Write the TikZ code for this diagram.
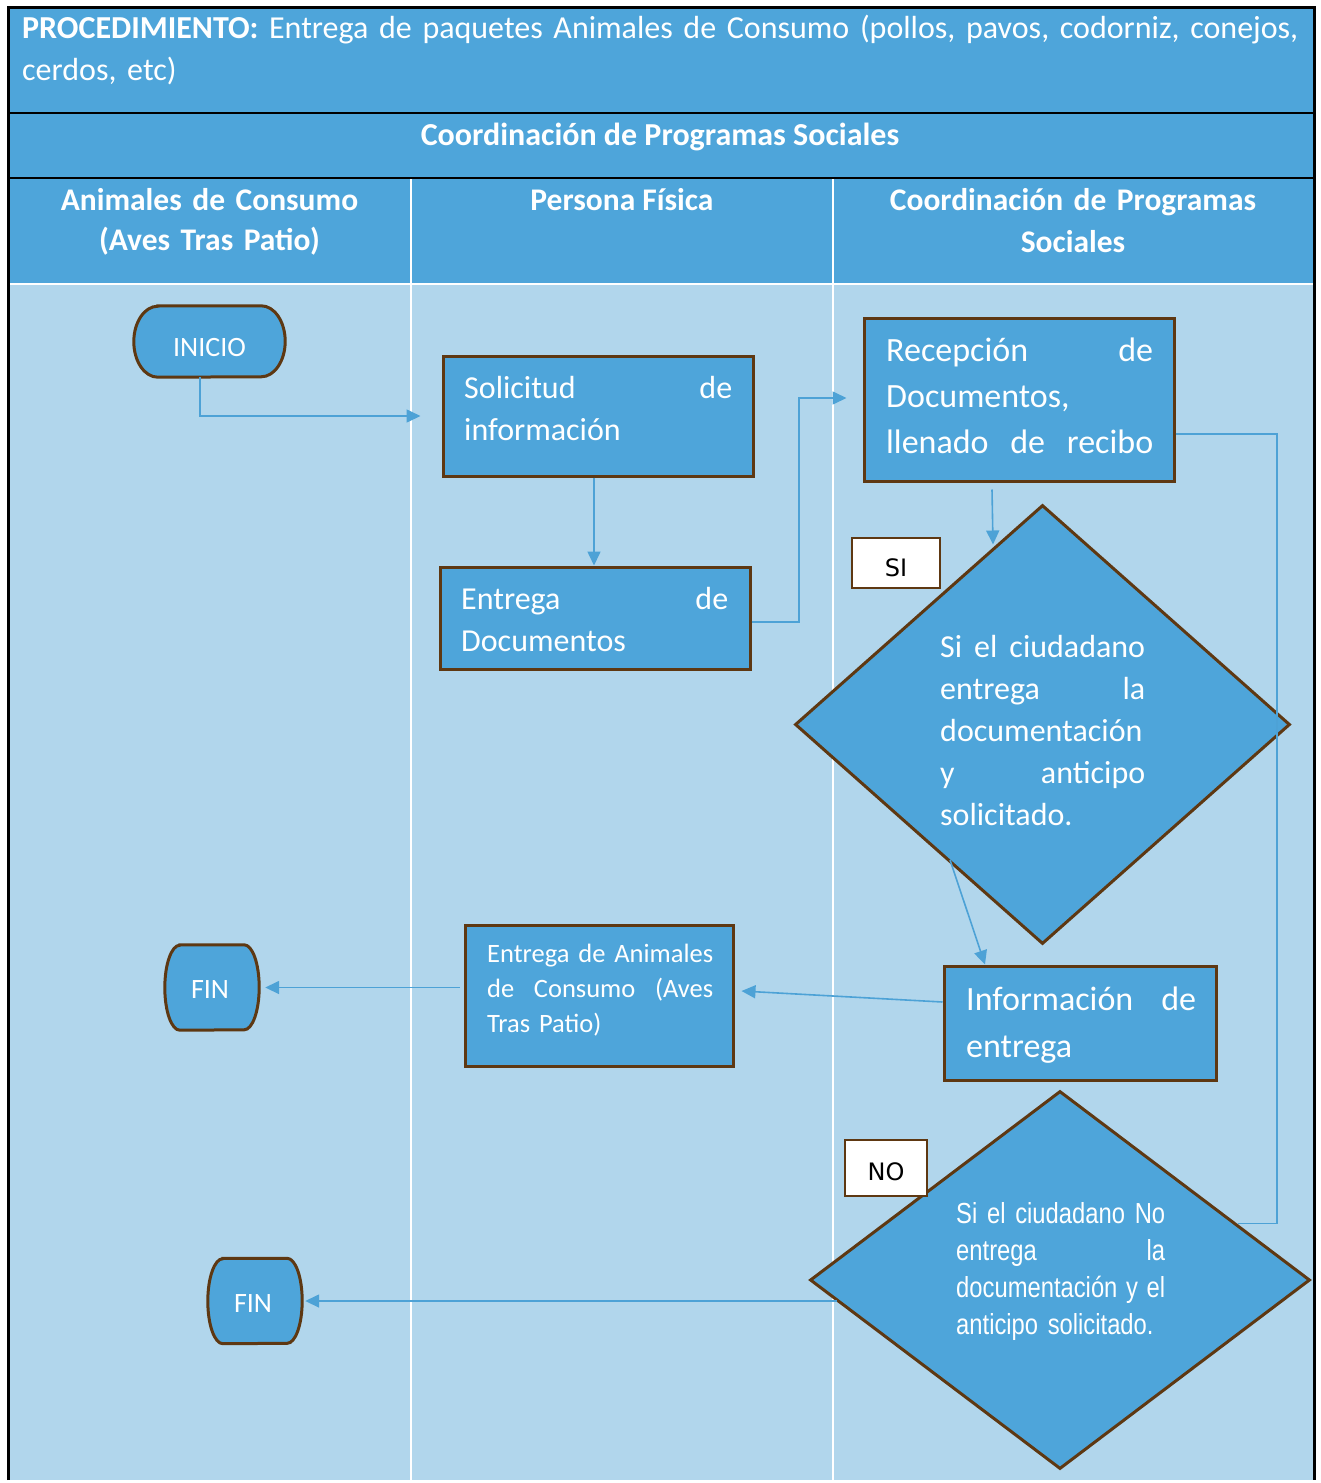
\documentclass[tikz,border=0pt]{standalone}
\usepackage{fontspec}
\setmainfont{Carlito}
\newfontfamily\narrowfont[FakeStretch=0.82]{Liberation Sans}
\newfontfamily\labelfont{DejaVu Sans}
\usetikzlibrary{shapes.geometric,arrows.meta,calc}
\definecolor{hdr}{HTML}{4EA5DA}
\definecolor{lane}{HTML}{B1D6EC}
\definecolor{brn}{HTML}{5E3812}
\definecolor{lnk}{HTML}{4DA2D6}
\newcommand\fs[2]{\fontsize{#1}{#2}\selectfont}
\newcommand\drawterm[3]{\draw[term] ([xshift=#2pt]#1.north west) -- ([xshift=-#2pt]#1.north east) arc[start angle=90,end angle=-90,x radius=#2pt,y radius=#3pt] -- ([xshift=#2pt]#1.south west) arc[start angle=270,end angle=90,x radius=#2pt,y radius=#3pt] -- cycle;}
\begin{document}
\begin{tikzpicture}[x=1pt,y=-1pt,
  box/.style={draw=brn,line width=3pt,fill=hdr,inner sep=0pt,rectangle},
  txt/.style={text=white,inner sep=0pt,anchor=base west,align=left},
  hd/.style={text=white,inner sep=0pt,anchor=base,align=center,font=\bfseries\fs{31.5}{40}},
  conn/.style={draw=lnk,line width=1.6pt},
  arr/.style={conn,-{Triangle[length=14pt,width=13pt]}},
  term/.style={draw=brn,line width=3pt,fill=hdr},
  termbox/.style={inner sep=0pt,draw=none,rectangle},
  termtxt/.style={text=white,inner sep=0pt,font=\fs{28}{30},text height=18pt,text depth=0pt},
  tag/.style={draw=brn,line width=2.5pt,fill=white,inner sep=0pt,font=\labelfont\fs{24}{28},text=black},
  dia/.style={diamond,draw=brn,line width=3pt,fill=hdr,inner sep=0pt},
]
\useasboundingbox (0,0) rectangle (1320,1483);
\fill[white] (0,0) rectangle (1320,1483);
% background of table
\fill[hdr] (8,7) rectangle (1314,284);
\fill[lane] (8,284) rectangle (1314,1480);
\draw[white,line width=2pt] (8,284) -- (1314,284);
\draw[white,line width=2pt] (411,178) -- (411,1480);
\draw[white,line width=2pt] (833,178) -- (833,1480);
\draw[black,line width=2.5pt] (8,113) -- (1314,113);
\draw[black,line width=2.5pt] (8,178) -- (1314,178);
\draw[black,line width=3pt] (8,1480) -- (8,7) -- (1314,7) -- (1314,1480);

% header texts
\node[txt, text width=1290pt, font=\fs{32}{42}] (title) at (22,38)
  {\makebox[1275pt][s]{\textbf{PROCEDIMIENTO:} Entrega de paquetes Animales de Consumo (pollos, pavos, codorniz, conejos,}\\cerdos, etc)};
\node[hd, font=\bfseries\fs{32}{40}] (row2) at (660,145) {Coordinación de Programas Sociales};
\node[hd, text width=400pt] (h1) at (209.5,210) {Animales de Consumo\\(Aves Tras Patio)};
\node[hd] (h2) at (622,210) {Persona Física};
\node[hd, text width=470pt, font=\bfseries\fs{31.5}{42}] (h3) at (1073,210) {Coordinación de Programas\\Sociales};

% terminators
\node[termbox, minimum width=151pt, minimum height=71pt] (ini) at (209.5,341.5) {};
\drawterm{ini}{24}{35.5}
\node[termtxt] (iniT) at (209.5,347.5) {INICIO};
\node[termbox, minimum width=94pt, minimum height=85pt] (fin1) at (212,987.5) {};
\drawterm{fin1}{15}{42.5}
\node[termtxt] (fin1T) at (210,989) {FIN};
\node[termbox, minimum width=94pt, minimum height=85pt] (fin2) at (255,1301) {};
\drawterm{fin2}{15}{42.5}
\node[termtxt] (fin2T) at (253,1303) {FIN};

% process boxes
\node[box, minimum width=310pt, minimum height=120pt] (sol) at (598,416) {};
\node[txt, text width=268pt, font=\fs{32}{42}] (solT) at (464,398) {Solicitud\hfill de\\información};

\node[box, minimum width=310pt, minimum height=102pt] (ed) at (595,618) {};
\node[txt, text width=267pt, font=\fs{32}{42}] (edT) at (461,609) {Entrega\hfill de\\Documentos};

\node[box, minimum width=310pt, minimum height=163pt] (rec) at (1019,399.5) {};
\node[txt, text width=267pt, font=\fs{34}{46}] (recT) at (886,361) {Recepción\hfill de\\Documentos,\\llenado\hfill de\hfill recibo};

\node[dia, minimum width=495pt, minimum height=439pt] (d1) at (1042.5,724.5) {};
\node[txt, text width=205pt, font=\fs{32}{42}] (d1T) at (940,657) {Si\hfill el\hfill ciudadano\\entrega\hfill la\\documentación\\y\hfill anticipo\\solicitado.};

\node[box, minimum width=272pt, minimum height=114pt] (inf) at (1080,1023) {};
\node[txt, text width=230pt, font=\fs{34}{47}] (infT) at (966,1010) {Información\hfill de\\entrega};

\node[box, minimum width=268pt, minimum height=141pt] (anim) at (599,995.5) {};
\node[txt, text width=226pt, font=\fs{26.5}{35}] (animT) at (487,962) {Entrega\hfill de\hfill Animales\\de\hfill Consumo\hfill (Aves\\Tras Patio)};

\node[dia, minimum width=500pt, minimum height=378pt] (d2) at (1060,1280) {};
\node[txt, text width=209pt, font=\narrowfont\fs{29}{37}] (d2T) at (956,1223) {Si\hfill el\hfill ciudadano\hfill No\\entrega\hfill la\\documentación\hfill y\hfill el\\anticipo solicitado.};

% SI / NO tags
\node[tag, minimum width=88pt, minimum height=50pt] (si) at (896,563) {\raisebox{-13pt}[0pt][0pt]{SI}};
\node[tag, minimum width=82pt, minimum height=56pt] (no) at (886,1168) {\raisebox{-12pt}[0pt][0pt]{NO}};

% helper coordinates
\coordinate (xm) at (799,0);
\coordinate (xr) at (1277,0);
\coordinate (d2e) at ([xshift=178pt,yshift=-134pt]d2.north);

% connectors
\draw[arr, shorten >=21pt] ([xshift=-9.5pt]ini.south) |- (sol.west);
\draw[arr] ([xshift=-4pt]sol.south) -- ([xshift=-4pt]sol.south |- ed.north);
\draw[arr, shorten >=16pt] ([yshift=-4pt]ed.east) -- ([yshift=-4pt]ed.east -| xm) |- ([yshift=1.5pt]rec.west);
\draw[arr] ([xshift=-27pt,yshift=-7pt]rec.south) -- ([xshift=-49.5pt,yshift=-41pt]d1.north);
\draw[arr] ([xshift=-92.5pt,yshift=-135.5pt]d1.center) -- ([xshift=-95pt]inf.north);
\draw[arr] ([yshift=21pt]inf.west) -- ([xshift=7pt,yshift=4.5pt]anim.east);
\draw[arr] ([xshift=-4pt]anim.west |- fin1.east) -- ([xshift=6pt]fin1.east);
\draw[arr] ([xshift=28pt]d2.west |- fin2.east) -- ([xshift=3pt]fin2.east);
\draw[conn] ([yshift=-34.5pt]rec.east) -- ([yshift=-34.5pt]rec.east -| xr) |- (d2e);
\end{tikzpicture}
\end{document}
